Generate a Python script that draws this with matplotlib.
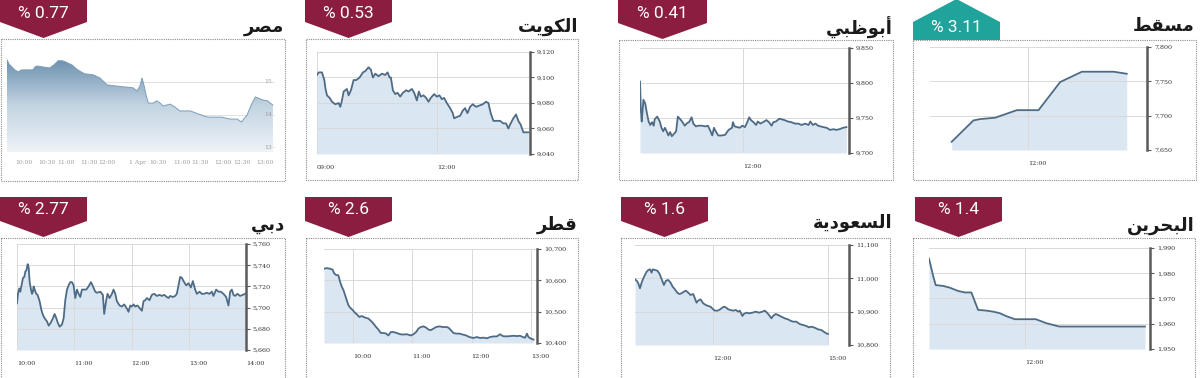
import numpy as np
import matplotlib
matplotlib.use("Agg")
import matplotlib.pyplot as plt
from matplotlib.patches import Polygon, Rectangle
from matplotlib.colors import LinearSegmentedColormap

plt.rcParams["font.family"] = "DejaVu Serif"

W, H = 1200, 378

# --------------------------
# Data
# --------------------------
names = ["مصر", "الكويت", "أبوظبي", "مسقط", "دبي", "قطر", "السعودية", "البحرين"]
changes = ["0.77", "0.53", "0.41", "3.11", "2.77", "2.6", "1.6", "1.4"]
rising = [False, False, False, True, False, False, False, False]

# Egypt (minutes on a continuous two-session axis)
eg_t = [0, 3, 7, 11, 16, 21, 30, 37, 40, 43, 51, 61, 67, 73, 79, 83, 93, 101, 111, 123,
        133, 143, 154, 166, 180, 186, 190, 193, 196, 199, 202, 209, 214, 219, 223, 233, 240, 247, 262, 273,
        287, 307, 319, 329, 335, 343, 349, 355, 365, 372, 380]
eg_v = [15.68, 15.55, 15.46, 15.37, 15.31, 15.37, 15.37, 15.37, 15.46, 15.49,
        15.46, 15.43, 15.52, 15.65, 15.65, 15.62, 15.52, 15.37, 15.25, 15.22,
        15.12, 14.91, 14.88, 14.85, 14.82, 14.72, 14.88, 15.12, 14.88, 14.57,
        14.35, 14.35, 14.42, 14.35, 14.26, 14.32, 14.23, 14.11, 14.11, 14.02,
        13.92, 13.92, 13.86, 13.86, 13.77, 13.98, 14.29, 14.54, 14.45, 14.42, 14.29]
eg_xticks = [24, 57, 84, 117, 143, 187, 216, 250, 276, 309, 336, 369]
eg_xlabels = ["10:00", "10:30", "11:00", "11:30", "12:00", "1 Apr",
              "10:30", "11:00", "11:30", "12:00", "12:30", "13:00"]
eg_yticks = [15, 14, 13]

# Kuwait (minutes since 09:00)
kw_t = [0, 2.5, 7.5, 11, 12.5, 15, 19, 22.5, 27.5, 32.5, 35, 37.5, 40, 45, 47.5, 51, 55, 59, 64, 69,
        72.5, 77.5, 81, 84, 87.5, 92.5, 97.5, 102.5, 106, 109, 111, 114, 117.5, 121, 125, 129, 134, 137.5,
        142.5, 146, 150, 153, 156, 160, 164, 167.5, 171, 176, 180, 184, 187.5, 191, 195, 200, 204, 206,
        210, 215, 219, 222.5, 226, 230, 234, 239, 244, 249, 254, 257.5, 261, 265, 270, 275, 280, 284,
        287.5, 290, 295, 299, 302.5, 306, 310, 315, 317.5]
kw_v = [9102, 9104, 9104, 9098, 9092, 9086, 9084, 9081, 9079, 9080,
        9077, 9082, 9089, 9091, 9086, 9090, 9098, 9098, 9100, 9104,
        9105, 9108, 9106, 9100, 9103, 9101, 9103, 9102, 9104, 9100,
        9100, 9090, 9087, 9088, 9085, 9088, 9090, 9089, 9091, 9088,
        9082, 9089, 9085, 9086, 9084, 9081, 9084, 9087, 9085, 9086,
        9083, 9084, 9080, 9076, 9072, 9068, 9069, 9070, 9074, 9076,
        9072, 9077, 9079, 9077, 9078, 9079, 9081, 9080, 9072, 9066,
        9066, 9066, 9064, 9064, 9060, 9063, 9068, 9071, 9066, 9063,
        9057, 9057, 9057]

# Abu Dhabi (minutes since 10:00)
ad_t = [0, 1, 2, 4, 6, 8, 10, 12, 14, 16, 17, 20, 23, 25, 27, 29, 31, 33, 35, 37,
        40, 42, 44, 47, 50, 52, 55, 57, 60, 62, 65, 68, 72, 76, 79, 82, 84, 86, 88, 91,
        95, 99, 103, 107, 108, 110, 113, 116, 119, 122, 124, 127, 129, 132, 135, 137, 140, 143, 147, 150,
        153, 155, 158, 162, 165, 168, 172, 176, 180, 184, 188, 192, 196, 198, 201, 204, 207, 210, 213, 217,
        221, 225, 228, 232, 236, 240]
ad_v = [9802, 9762, 9745, 9776, 9771, 9757, 9745, 9740, 9744, 9739,
        9748, 9752, 9745, 9736, 9731, 9736, 9731, 9725, 9730, 9724,
        9728, 9731, 9752, 9748, 9743, 9739, 9743, 9744, 9751, 9742,
        9738, 9739, 9739, 9738, 9739, 9731, 9725, 9736, 9731, 9725,
        9725, 9726, 9733, 9736, 9744, 9738, 9737, 9736, 9739, 9737,
        9742, 9751, 9747, 9744, 9740, 9745, 9742, 9744, 9747, 9744,
        9739, 9744, 9745, 9749, 9748, 9747, 9745, 9744, 9742, 9742,
        9740, 9742, 9740, 9745, 9740, 9742, 9739, 9738, 9737, 9736,
        9733, 9734, 9733, 9734, 9736, 9737]

# Muscat (minutes since 10:00)
ms_t = [67, 82, 86.5, 97, 112, 120, 127, 142, 148, 157, 172, 179, 188]
ms_v = [7662, 7693, 7695, 7697, 7708, 7708, 7708, 7749, 7755, 7764, 7764, 7764, 7761]

# Dubai (minutes since 10:00)
db_t = [0, 1, 2.4, 3.5, 4.5, 6.3, 7.7, 8.7, 9.8, 11.2,
        12.2, 13.3, 14.7, 15.7, 16.7, 17.4, 18.5, 20.2, 21.6, 23.7,
        25.5, 27.2, 29, 31.4, 33.2, 34.9, 37.7, 39.4, 41.2, 42.6,
        44.7, 47.1, 48.9, 50.6, 52.4, 54.1, 55.8, 57.6, 59.3, 61.1,
        62.8, 64.6, 66.3, 68.1, 69.8, 72.6, 75, 77.5, 79.6, 82,
        83.8, 87.3, 90, 91.4, 93.5, 94.9, 97, 99.5, 101.2, 103,
        104.7, 107.5, 109.9, 112.4, 115.2, 116.9, 118.7, 120.4, 122.2, 123.9,
        126.3, 129.1, 130.9, 132.6, 134.4, 136.1, 138.9, 141.3, 143.8, 146.6,
        149.4, 151.8, 154.3, 157, 158.8, 160.5, 163.3, 165.8, 167.5, 169.3,
        171, 172.8, 175.2, 177.3, 179.7, 182.2, 184.3, 186.7, 188.5, 191.3,
        193.7, 196.1, 198.9, 201.7, 204.2, 205.9, 208.7, 211.2, 213.6, 216.4,
        219.2, 221.6, 223.4, 225.1, 226.9, 228.6, 231, 233.8, 236.6, 239.1]
db_v = [5704, 5713, 5718, 5715, 5720, 5728, 5729, 5734, 5735, 5741,
        5738, 5724, 5717, 5713, 5715, 5720, 5717, 5713, 5712, 5706,
        5698, 5693, 5690, 5687, 5683, 5685, 5690, 5694, 5690, 5686,
        5682, 5684, 5690, 5707, 5717, 5721, 5724, 5724, 5721, 5709,
        5717, 5713, 5710, 5717, 5717, 5717, 5720, 5724, 5720, 5715,
        5714, 5715, 5712, 5694, 5707, 5713, 5709, 5713, 5717, 5713,
        5706, 5702, 5701, 5703, 5699, 5696, 5702, 5701, 5703, 5701,
        5702, 5699, 5697, 5706, 5707, 5709, 5707, 5712, 5713, 5711,
        5712, 5711, 5712, 5710, 5709, 5711, 5710, 5711, 5713, 5721,
        5729, 5728, 5724, 5721, 5723, 5719, 5725, 5717, 5713, 5715,
        5713, 5713, 5714, 5713, 5715, 5711, 5717, 5715, 5715, 5713,
        5710, 5702, 5715, 5717, 5712, 5711, 5713, 5711, 5712, 5713]

# Qatar (minutes since 09:30)
qt_t = [1, 3.7, 7.1, 9.8, 11.1, 13.2, 15.5, 17.2, 18.9, 20.6,
        22.3, 23.9, 25.6, 27.3, 30, 32.4, 34, 36.7, 39.1, 42.5,
        45.8, 48.2, 50.9, 53.6, 55.9, 58.3, 61, 63.7, 66, 68.4,
        71.1, 74.4, 77.8, 81.2, 84.5, 88.6, 91.3, 94, 96.3, 98.7,
        101.4, 104.1, 106.4, 108.8, 111.5, 114.2, 117.5, 120.9, 124.3, 126.6,
        129, 131.7, 134.4, 137.7, 141.1, 144.5, 147.8, 151.9, 155.3, 158.6,
        162, 165.4, 168.7, 172.1, 175.5, 178.8, 181.5, 184.9, 188.9, 192.3,
        195.7, 199, 201.7, 204.1, 205.8, 207.4, 209.8, 212.5]
qt_v = [10637, 10639, 10637, 10634, 10623, 10617, 10616, 10596, 10580, 10569,
        10553, 10537, 10521, 10513, 10505, 10496, 10492, 10483, 10486, 10481,
        10478, 10471, 10462, 10451, 10443, 10432, 10432, 10430, 10424, 10435,
        10435, 10432, 10428, 10427, 10428, 10424, 10428, 10435, 10446, 10451,
        10453, 10449, 10443, 10441, 10446, 10451, 10453, 10451, 10451, 10449,
        10441, 10432, 10430, 10430, 10427, 10424, 10419, 10416, 10419, 10416,
        10417, 10415, 10419, 10421, 10421, 10428, 10422, 10421, 10422, 10423,
        10422, 10423, 10419, 10417, 10430, 10419, 10414, 10411]

# Saudi (minutes since 10:00)
sa_t = [-2.6, 0, 2.6, 5.2, 7.8, 10.4, 13, 15.7, 18.3, 20.9,
        23.5, 25.1, 28.7, 32.4, 35.5, 38.1, 40.7, 42.8, 45.9, 49.6,
        53.2, 56.4, 60, 63.7, 66.8, 70.4, 74.1, 77.2, 80.9, 84.5,
        88.7, 91.3, 93.9, 96.5, 100.2, 104.3, 108.5, 112.2, 115.8, 120,
        122.6, 126.3, 129.4, 133, 136.7, 139.8, 143.5, 147.1, 151.3, 155.5,
        159.1, 161.7, 165.9, 168, 172.2, 176.4, 181.6, 186.8, 192, 197.2,
        200.9, 204.5, 208.7, 211.3, 213.9, 218.1, 221.7, 226.9, 232.2, 237.4,
        241, 245.2, 250.4, 255.6, 260.9, 266.1, 270.2, 273.9, 279.1, 284.3,
        289.6, 293.2, 297.4, 300]
sa_v = [10997, 10993, 10985, 10970, 10987, 11000, 11010, 11020, 11025, 11027,
        11017, 11027, 11025, 11023, 11015, 11003, 10990, 10980, 10993, 10995,
        10987, 10975, 10967, 10957, 10953, 10955, 10960, 10963, 10957, 10950,
        10953, 10940, 10927, 10933, 10937, 10925, 10920, 10917, 10915, 10907,
        10903, 10903, 10905, 10910, 10915, 10913, 10907, 10905, 10903, 10905,
        10900, 10903, 10887, 10893, 10897, 10895, 10897, 10900, 10897, 10900,
        10903, 10897, 10887, 10880, 10887, 10893, 10890, 10885, 10880, 10877,
        10873, 10870, 10870, 10863, 10860, 10857, 10853, 10855, 10852, 10847,
        10845, 10840, 10835, 10833]

# Bahrain (minutes since 10:00)
bh_t = [0, 5, 8.4, 17.6, 25.9, 36.4, 44.8, 53.1, 61.5, 72, 80.3, 88.7, 96.2, 107.5,
        118, 133.9, 147.3, 163.2, 180.8, 214.2, 256.1, 270.7]
bh_v = [1985.8, 1979.2, 1975.3, 1975.0, 1974.3, 1973.0, 1972.4, 1972.4, 1965.5, 1965.2,
        1964.8, 1964.2, 1963.1, 1961.8, 1961.8, 1961.8, 1960.2, 1958.9, 1958.9, 1958.9,
        1958.9, 1958.9]

MAROON = "#8b1d41"
TEAL = "#1fa39a"
FILL = "#dae7f3"
LINE = "#4e6b86"

# --------------------------
# Arabic shaping (matplotlib has no contextual shaping)
# --------------------------
AR_FORMS = {
    "ا": (0xFE8D, 0xFE8E), "أ": (0xFE83, 0xFE84), "د": (0xFEA9, 0xFEAA),
    "ر": (0xFEAD, 0xFEAE), "و": (0xFEED, 0xFEEE), "ة": (0xFE93, 0xFE94),
    "ب": (0xFE8F, 0xFE90, 0xFE91, 0xFE92), "ت": (0xFE95, 0xFE96, 0xFE97, 0xFE98),
    "ح": (0xFEA1, 0xFEA2, 0xFEA3, 0xFEA4), "س": (0xFEB1, 0xFEB2, 0xFEB3, 0xFEB4),
    "ص": (0xFEB9, 0xFEBA, 0xFEBB, 0xFEBC), "ط": (0xFEC1, 0xFEC2, 0xFEC3, 0xFEC4),
    "ظ": (0xFEC5, 0xFEC6, 0xFEC7, 0xFEC8), "ع": (0xFEC9, 0xFECA, 0xFECB, 0xFECC),
    "ق": (0xFED5, 0xFED6, 0xFED7, 0xFED8), "ك": (0xFED9, 0xFEDA, 0xFEDB, 0xFEDC),
    "ل": (0xFEDD, 0xFEDE, 0xFEDF, 0xFEE0), "م": (0xFEE1, 0xFEE2, 0xFEE3, 0xFEE4),
    "ن": (0xFEE5, 0xFEE6, 0xFEE7, 0xFEE8), "ي": (0xFEF1, 0xFEF2, 0xFEF3, 0xFEF4),
}


def shape_ar(word):
    out = []
    for i, ch in enumerate(word):
        forms = AR_FORMS[ch]
        prev_joins = i > 0 and len(AR_FORMS[word[i - 1]]) == 4
        next_joins = i < len(word) - 1 and len(forms) == 4
        if prev_joins and next_joins:
            f = forms[3]
        elif prev_joins:
            f = forms[1]
        elif next_joins:
            f = forms[2]
        else:
            f = forms[0]
        out.append(chr(f))
    return "".join(reversed(out))


# --------------------------
# Figure + overlay in pixel coords
# --------------------------
fig = plt.figure(figsize=(12, 3.78), dpi=100)
bg = fig.add_axes([0, 0, 1, 1])
bg.set_xlim(0, W)
bg.set_ylim(H, 0)
bg.axis("off")


def px_axes(x0, y0, x1, y1):
    return fig.add_axes([x0 / W, 1 - y1 / H, (x1 - x0) / W, (y1 - y0) / H])


frames = [(1, 39, 285, 181), (306, 39, 578, 180), (619, 40, 893, 180), (913, 40, 1196, 180),
          (1, 238, 285, 390), (306, 238, 578, 390), (621, 238, 890, 390), (913, 238, 1195, 390)]
badge_x = [(0, 87), (305, 392), (618, 707), (913, 1000),
           (0, 87), (305, 392), (621, 708), (915, 1002)]
title_xy = [(284, 27), (578, 27), (893, 28), (1195, 26),
            (285, 225), (578, 225), (893, 223), (1195, 226)]

for i, (fx0, fy0, fx1, fy1) in enumerate(frames):
    bg.add_patch(Rectangle((fx0, fy0), fx1 - fx0, fy1 - fy0, fill=False,
                           ec="#8c8c8c", lw=0.8, ls=(0, (1, 1))))
    bx0, bx1 = badge_x[i]
    xm = (bx0 + bx1) / 2
    if rising[i]:
        pts = [(bx0, fy0), (bx1, fy0), (bx1, fy0 - 18), (xm, fy0 - 41), (bx0, fy0 - 18)]
        ty = fy0 - 12
        col = TEAL
    else:
        top = fy0 - 41
        pts = [(bx0, top), (bx1, top), (bx1, fy0 - 17), (xm, fy0 - 1), (bx0, fy0 - 17)]
        ty = fy0 - 26 if i < 4 else fy0 - 29
        col = MAROON
    bg.add_patch(Polygon(pts, closed=True, fc=col, ec="none"))
    bg.text(xm, ty, "% " + changes[i], ha="center", va="center", color="white",
            fontsize=12.5, family="Roboto")
    tx, tyy = title_xy[i]
    bg.text(tx, tyy, shape_ar(names[i]), ha="right", va="center", fontsize=13,
            fontweight="bold", family="DejaVu Sans", color="#1a1a1a")


# --------------------------
# Standard line/area panel
# --------------------------
def line_panel(box, t, v, xlim, ylim, yticks, xticks, xlabels):
    ax = px_axes(*box)
    ax.fill_between(t, v, ylim[0], color=FILL, lw=0, zorder=1)
    ax.plot(t, v, color=LINE, lw=1.3, zorder=3, solid_joinstyle="round")
    ax.set_xlim(*xlim)
    ax.set_ylim(*ylim)
    for s in ["left", "top", "bottom"]:
        ax.spines[s].set_visible(False)
    ax.spines["right"].set_color("#5a5a5a")
    ax.spines["right"].set_linewidth(1.8)
    ax.yaxis.tick_right()
    ax.set_yticks(yticks, [f"{y:,}" for y in yticks])
    ax.set_xticks(xticks, xlabels)
    ax.tick_params(axis="y", length=3, width=0.8, color="#5a5a5a", pad=2,
                   labelsize=4.6, labelcolor="#333333")
    ax.tick_params(axis="x", length=0, pad=8, labelsize=4.6, labelcolor="#333333")
    for lab in ax.get_xticklabels():
        lab.set_ha("left")
    ax.grid(True, color="#d9d9d9", lw=0.7)
    ax.set_axisbelow("line")
    ax.patch.set_alpha(0)
    return ax


line_panel((317, 52, 530, 154), kw_t, kw_v, (0, 320), (9040, 9120),
           [9040, 9060, 9080, 9100, 9120], [0, 180], ["09:00", "12:00"])
line_panel((640, 48, 849, 153), ad_t, ad_v, (0, 243), (9700, 9850),
           [9700, 9750, 9800, 9850], [120], ["12:00"])
line_panel((930, 47, 1147, 150), ms_t, ms_v, (52, 202), (7650, 7800),
           [7650, 7700, 7750, 7800], [120], ["12:00"])
line_panel((17, 244, 246, 350), db_t, db_v, (0, 240), (5660, 5760),
           [5660, 5680, 5700, 5720, 5740, 5760], [0, 60, 120, 180, 240],
           ["10:00", "11:00", "12:00", "13:00", "14:00"])
line_panel((324, 249, 537, 343), qt_t, qt_v, (1, 216), (10400, 10700),
           [10400, 10500, 10600, 10700], [30, 90, 150, 210],
           ["10:00", "11:00", "12:00", "13:00"])
line_panel((635, 245, 849, 345), sa_t, sa_v, (-2.6, 333), (10800, 11100),
           [10800, 10900, 11000, 11100], [120, 300], ["12:00", "15:00"])
line_panel((929, 248, 1150, 349), bh_t, bh_v, (0, 277), (1950, 1990),
           [1950, 1960, 1970, 1980, 1990], [120], ["12:00"])

# --------------------------
# Egypt panel (gradient area)
# --------------------------
ax = px_axes(7, 50, 275, 152)
ylo = 12.85
for y in eg_yticks:
    ax.axhline(y, color="#e2e2e2", lw=0.7, zorder=0)
poly = ax.fill_between(eg_t, eg_v, ylo, color="none", lw=0)
grad = np.linspace(0, 1, 256).reshape(-1, 1)
cmap = LinearSegmentedColormap.from_list("eg", ["#eef3f8", "#c3d4e2", "#6c90af"])
im = ax.imshow(grad, extent=[0, 383, ylo, max(eg_v)], origin="lower",
               aspect="auto", cmap=cmap, zorder=1)
im.set_clip_path(poly.get_paths()[0], transform=ax.transData)
ax.plot(eg_t, eg_v, color="#7d9db8", lw=0.7, zorder=2)
ax.set_xlim(0, 383)
ax.set_ylim(ylo, 15.98)
ax.axis("off")
for y in eg_yticks:
    ax.text(373, y, str(y), ha="center", va="center", fontsize=4.3,
            color="#9a9a9a", zorder=3)
for x, lab in zip(eg_xticks, eg_xlabels):
    ax.text(x, -0.1, lab, transform=ax.get_xaxis_transform(), ha="center",
            va="center", fontsize=4.3, color="#9a9a9a")

fig.savefig("out.png", dpi=100)
